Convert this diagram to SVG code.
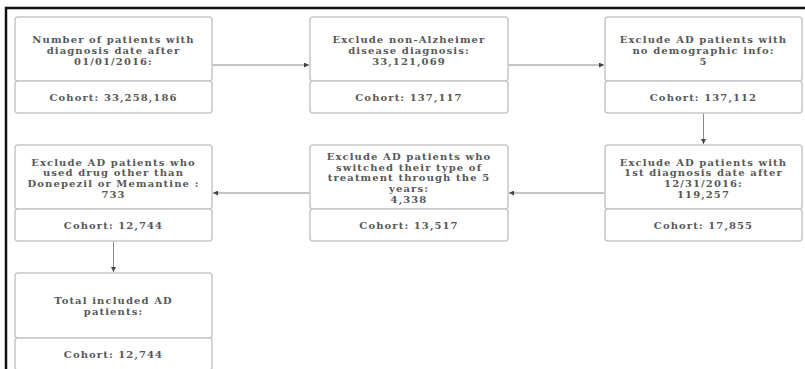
<svg xmlns="http://www.w3.org/2000/svg" width="805" height="369" viewBox="0 0 805 369">
<style>
.box{fill:#fff;stroke:#c8c8c8;stroke-width:1.5}
.t{font-family:"DejaVu Serif","Liberation Serif",serif;font-weight:bold;font-size:10px;fill:#585858;text-anchor:middle;letter-spacing:1.1px}
.c{stroke:#8a8a8a;stroke-width:1;fill:none;marker-end:url(#ah)}
</style>
<defs>
<marker id="ah" viewBox="0 0 10 10" refX="10" refY="5" markerWidth="7" markerHeight="5" markerUnits="userSpaceOnUse" orient="auto">
<path d="M0,0L10,5L0,10z" fill="#444"/>
</marker>
</defs>
<rect x="0" y="0" width="805" height="369" fill="#fff"/>
<path d="M6,369V8H805" fill="none" stroke="#111" stroke-width="2.5"/>
<g id="connectors">
<path class="c" d="M212,65H309"/>
<path class="c" d="M508,65H604"/>
<path class="c" d="M703.5,113V144"/>
<path class="c" d="M605,193H509"/>
<path class="c" d="M310,193H213"/>
<path class="c" d="M113.5,241V272"/>
</g>
<g id="n1">
<rect class="box" x="15" y="17" width="197" height="64" rx="3"/>
<rect class="box" x="15" y="81" width="197" height="32" rx="3"/>
<text class="t" x="113.5" y="42.5">Number of patients with</text>
<text class="t" x="113.5" y="53.5">diagnosis date after</text>
<text class="t" x="113.5" y="64.5">01/01/2016:</text>
<text class="t" x="113.5" y="100.5">Cohort: 33,258,186</text>
</g>
<g id="n2">
<rect class="box" x="310" y="17" width="198" height="64" rx="3"/>
<rect class="box" x="310" y="81" width="198" height="32" rx="3"/>
<text class="t" x="409" y="42.5">Exclude non-Alzheimer</text>
<text class="t" x="409" y="53.5">disease diagnosis:</text>
<text class="t" x="409" y="64.5">33,121,069</text>
<text class="t" x="409" y="100.5">Cohort: 137,117</text>
</g>
<g id="n3">
<rect class="box" x="605" y="17" width="197" height="64" rx="3"/>
<rect class="box" x="605" y="81" width="197" height="32" rx="3"/>
<text class="t" x="703.5" y="42.5">Exclude AD patients with</text>
<text class="t" x="703.5" y="53.5">no demographic info:</text>
<text class="t" x="703.5" y="64.5">5</text>
<text class="t" x="703.5" y="100.5">Cohort: 137,112</text>
</g>
<g id="n4">
<rect class="box" x="605" y="145" width="197" height="64" rx="3"/>
<rect class="box" x="605" y="209" width="197" height="32" rx="3"/>
<text class="t" x="703.5" y="165.5">Exclude AD patients with</text>
<text class="t" x="703.5" y="176.3">1st diagnosis date after</text>
<text class="t" x="703.5" y="187.1">12/31/2016:</text>
<text class="t" x="703.5" y="197.9">119,257</text>
<text class="t" x="703.5" y="228.5">Cohort: 17,855</text>
</g>
<g id="n5">
<rect class="box" x="310" y="145" width="198" height="64" rx="3"/>
<rect class="box" x="310" y="209" width="198" height="32" rx="3"/>
<text class="t" x="409" y="160">Exclude AD patients who</text>
<text class="t" x="409" y="170.7">switched their type of</text>
<text class="t" x="409" y="181.4">treatment through the 5</text>
<text class="t" x="409" y="192.1">years:</text>
<text class="t" x="409" y="202.8">4,338</text>
<text class="t" x="409" y="228.5">Cohort: 13,517</text>
</g>
<g id="n6">
<rect class="box" x="15" y="145" width="197" height="64" rx="3"/>
<rect class="box" x="15" y="209" width="197" height="32" rx="3"/>
<text class="t" x="113.5" y="165.5">Exclude AD patients who</text>
<text class="t" x="113.5" y="176.3">used drug other than</text>
<text class="t" x="113.5" y="187.1">Donepezil or Memantine :</text>
<text class="t" x="113.5" y="197.9">733</text>
<text class="t" x="113.5" y="228.5">Cohort: 12,744</text>
</g>
<g id="n7">
<rect class="box" x="15" y="273" width="197" height="65" rx="3"/>
<rect class="box" x="15" y="338" width="197" height="32" rx="3"/>
<text class="t" x="113.5" y="303.5">Total included AD</text>
<text class="t" x="113.5" y="314.5">patients:</text>
<text class="t" x="113.5" y="357.5">Cohort: 12,744</text>
</g>
</svg>
